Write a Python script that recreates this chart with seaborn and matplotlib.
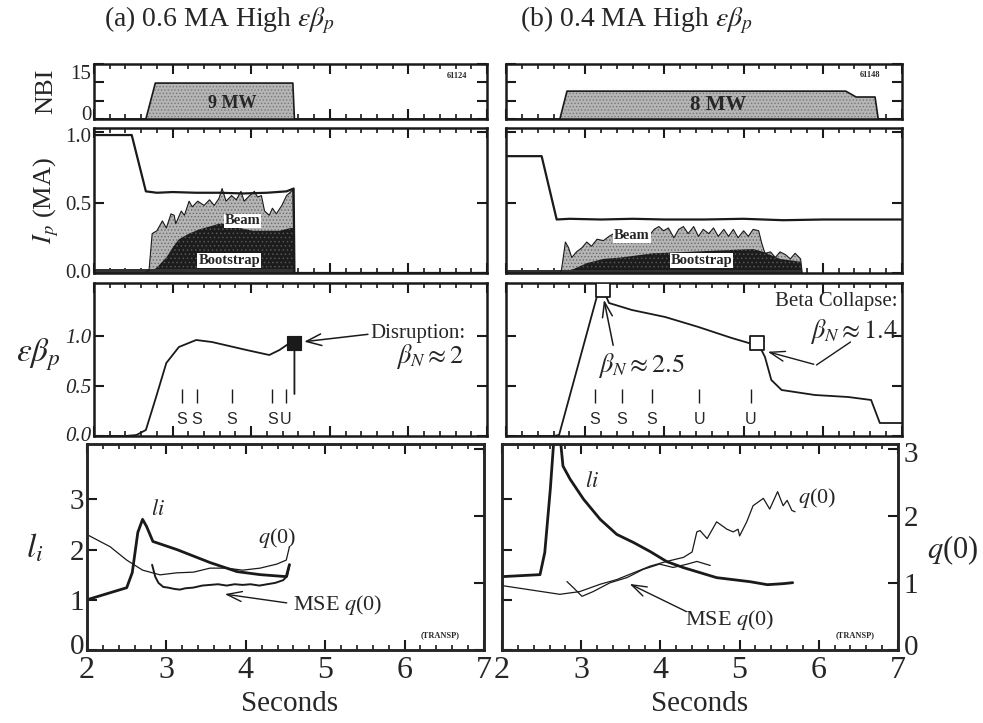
import numpy as np
import pandas as pd
import matplotlib
matplotlib.use("Agg")
import matplotlib.pyplot as plt
import matplotlib.transforms as mtransforms
from matplotlib.ticker import MultipleLocator, FixedLocator
import seaborn as sns

sns.set_theme(style="white")
plt.rcParams['font.family'] = ['Liberation Serif', 'DejaVu Serif']
plt.rcParams['mathtext.fontset'] = 'stix'
plt.rcParams['hatch.linewidth'] = 0.6

# ---------------- data: (a) 0.6 MA shot 61124 ----------------
a_nbi_t = [2.0, 2.66, 2.78, 4.53, 4.55, 7.0]
a_nbi_p = [0.0, 0.0, 9.8, 9.8, 0.0, 0.0]

a_ip_t = [2.0, 2.48, 2.66, 2.8, 3.0, 3.3, 3.6, 3.9, 4.2, 4.45, 4.54, 4.55, 7.0]
a_ip_v = [0.98, 0.98, 0.58, 0.57, 0.575, 0.57, 0.57, 0.565, 0.57, 0.58, 0.60, 0.0, 0.0]

a_beam_t = [2.65, 2.70, 2.74, 2.80, 2.87, 2.92, 2.98, 3.02, 3.04, 3.11, 3.15, 3.21, 3.25,
            3.32, 3.40, 3.47, 3.53, 3.59, 3.63, 3.68, 3.75, 3.81, 3.87, 3.91, 3.98, 4.04,
            4.08, 4.13, 4.17, 4.23, 4.27, 4.32, 4.39, 4.45, 4.51, 4.53, 4.55]
a_beam_v = [0.0, 0.02, 0.28, 0.30, 0.37, 0.32, 0.42, 0.41, 0.35, 0.44, 0.41, 0.51, 0.47,
            0.51, 0.48, 0.52, 0.48, 0.53, 0.60, 0.51, 0.55, 0.52, 0.58, 0.51, 0.55, 0.58,
            0.54, 0.55, 0.44, 0.41, 0.46, 0.42, 0.48, 0.55, 0.58, 0.59, 0.0]

a_boot_t = [2.70, 2.80, 2.92, 3.00, 3.08, 3.21, 3.34, 3.47, 3.59, 3.72, 3.85, 4.02, 4.19,
            4.36, 4.50, 4.54, 4.55]
a_boot_v = [0.0, 0.04, 0.11, 0.18, 0.24, 0.28, 0.31, 0.33, 0.35, 0.35, 0.32, 0.30, 0.30,
            0.30, 0.32, 0.32, 0.0]

a_ohm_t = [2.0, 4.55]
a_ohm_v = [0.025, 0.025]

a_eb_t = [2.0, 2.4, 2.54, 2.66, 2.79, 2.92, 3.08, 3.3, 3.5, 3.72, 3.94, 4.23, 4.36, 4.49, 4.55, 4.55]
a_eb_v = [0.0, 0.0, 0.01, 0.06, 0.39, 0.73, 0.89, 0.96, 0.94, 0.90, 0.86, 0.81, 0.86, 0.93, 0.93, 0.42]
a_disr_t = [4.55]
a_disr_v = [0.93]
a_ev_t = [3.12, 3.31, 3.75, 4.27, 4.44]
a_ev_lbl = ["S", "S", "S", "S", "U"]

a_li_t = [2.0, 2.5, 2.57, 2.64, 2.70, 2.75, 2.83, 3.13, 3.55, 3.89, 4.18, 4.51, 4.55]
a_li_v = [1.0, 1.24, 1.54, 2.34, 2.60, 2.46, 2.16, 2.0, 1.74, 1.56, 1.50, 1.46, 1.70]

a_q_t = [2.0, 2.29, 2.5, 2.7, 2.92, 3.13, 3.34, 3.55, 3.76, 3.96, 4.18, 4.39, 4.51, 4.55]
a_q_v = [1.72, 1.54, 1.34, 1.19, 1.12, 1.15, 1.16, 1.22, 1.22, 1.19, 1.22, 1.28, 1.34, 1.54]

a_mse_t = [2.82, 2.86, 2.90, 2.96, 3.02, 3.10, 3.17, 3.24, 3.34, 3.45, 3.55, 3.65, 3.76,
           3.86, 3.96, 4.06, 4.17, 4.27, 4.37, 4.47, 4.52, 4.55]
a_mse_v = [1.27, 1.09, 1.00, 0.94, 0.93, 0.91, 0.90, 0.92, 0.93, 0.96, 0.97, 0.98, 0.96,
           0.98, 0.97, 0.98, 0.96, 0.98, 1.00, 1.04, 1.10, 1.27]

# ---------------- data: (b) 0.4 MA shot 61148 ----------------
b_nbi_t = [2.0, 2.68, 2.77, 6.29, 6.42, 6.66, 6.70, 7.0]
b_nbi_p = [0.0, 0.0, 7.6, 7.6, 6.0, 6.0, 0.0, 0.0]

b_ip_t = [2.0, 2.45, 2.64, 2.8, 3.2, 3.6, 4.0, 4.5, 5.0, 5.5, 6.0, 6.5, 7.0]
b_ip_v = [0.83, 0.83, 0.38, 0.385, 0.38, 0.385, 0.38, 0.38, 0.385, 0.375, 0.38, 0.38, 0.38]

b_beam_t = [2.68, 2.70, 2.75, 2.79, 2.83, 2.89, 2.96, 3.02, 3.08, 3.15, 3.23, 3.30, 3.36,
            3.50, 3.65, 3.83, 3.87, 3.93, 3.99, 4.05, 4.12, 4.18, 4.24, 4.30, 4.37, 4.43,
            4.49, 4.56, 4.62, 4.68, 4.75, 4.81, 4.87, 4.93, 5.00, 5.06, 5.12, 5.19, 5.23,
            5.27, 5.34, 5.40, 5.46, 5.53, 5.59, 5.65, 5.72, 5.74]
b_beam_v = [0.0, 0.02, 0.22, 0.18, 0.11, 0.15, 0.18, 0.22, 0.19, 0.24, 0.23, 0.26, 0.28,
            0.27, 0.29, 0.28, 0.31, 0.33, 0.30, 0.32, 0.25, 0.31, 0.33, 0.28, 0.33, 0.26,
            0.31, 0.28, 0.32, 0.26, 0.31, 0.26, 0.31, 0.25, 0.30, 0.26, 0.31, 0.30, 0.21,
            0.14, 0.15, 0.11, 0.15, 0.13, 0.10, 0.14, 0.10, 0.0]

b_boot_t = [2.70, 2.86, 3.02, 3.23, 3.45, 3.86, 4.28, 4.70, 5.12, 5.25, 5.46, 5.72, 5.74]
b_boot_v = [0.0, 0.03, 0.07, 0.10, 0.11, 0.14, 0.15, 0.16, 0.17, 0.15, 0.10, 0.08, 0.0]

b_ohm_t = [2.0, 5.74]
b_ohm_v = [0.02, 0.02]

b_eb_t = [2.0, 2.6, 2.67, 3.17, 3.23, 3.30, 3.59, 4.01, 4.43, 4.85, 5.15, 5.18, 5.27,
          5.35, 5.48, 5.90, 6.32, 6.61, 6.72, 7.0]
b_eb_v = [0.0, 0.0, 0.01, 1.46, 1.46, 1.33, 1.26, 1.19, 1.09, 0.98, 0.91, 0.93, 0.79,
          0.56, 0.46, 0.41, 0.39, 0.36, 0.13, 0.13]
b_sq_t = [3.23, 5.17]
b_sq_v = [1.46, 0.93]
b_ev_t = [3.12, 3.46, 3.84, 4.44, 5.09]
b_ev_lbl = ["S", "S", "S", "U", "U"]

b_li_t = [2.0, 2.48, 2.54, 2.61, 2.66, 2.73, 2.77, 2.86, 3.03, 3.24, 3.45, 3.66, 3.87,
          4.08, 4.29, 4.50, 4.71, 4.92, 5.13, 5.35, 5.55, 5.67]
b_li_v = [1.46, 1.50, 1.94, 3.20, 4.3, 4.3, 3.66, 3.40, 3.00, 2.60, 2.30, 2.14, 1.96,
          1.76, 1.64, 1.54, 1.44, 1.40, 1.36, 1.30, 1.32, 1.34]

b_q_t = [2.0, 2.73, 2.98, 3.24, 3.45, 3.66, 3.87, 4.08, 4.29, 4.40, 4.46, 4.50, 4.59,
         4.71, 4.84, 4.92, 4.98, 5.00, 5.09, 5.17, 5.30, 5.38, 5.48, 5.55, 5.60, 5.66, 5.70]
b_q_v = [0.96, 0.83, 0.87, 0.98, 1.05, 1.15, 1.25, 1.32, 1.38, 1.46, 1.76, 1.78, 1.66,
         1.91, 1.80, 1.76, 1.80, 1.70, 1.91, 2.15, 2.26, 2.10, 2.36, 2.15, 2.23, 2.08, 2.06]

b_mse_t = [2.82, 2.90, 3.01, 3.15, 3.36, 3.58, 3.78, 3.99, 4.16, 4.34, 4.46, 4.63]
b_mse_v = [1.02, 0.93, 0.80, 0.87, 1.00, 1.08, 1.20, 1.28, 1.23, 1.28, 1.32, 1.26]

x_ticks = [2, 3, 4, 5, 6, 7]

# ---------------- figure ----------------
W, H = 983, 723
fig = plt.figure(figsize=(W / 100, H / 100), dpi=100)


def box(x0, x1, y0, y1):
    return [x0 / W, 1 - y1 / H, (x1 - x0) / W, (y1 - y0) / H]


def line(ax, x, y, lw=1.0):
    sns.lineplot(x=x, y=y, ax=ax, color='k', lw=lw, sort=False,
                 estimator=None, legend=False)


def shift(lbl, dy_px):
    lbl.set_transform(lbl.get_transform() +
                      mtransforms.ScaledTranslation(0, dy_px / 100, fig.dpi_scale_trans))


def style(ax, ylim, yticks, ylabels=None, xlabels=False, ysize=13, yitalic=False):
    ax.set_xlim(2, 7)
    ax.set_ylim(*ylim)
    for s in ax.spines.values():
        s.set_linewidth(1.8)
        s.set_color('k')
        s.set_visible(True)
    ax.xaxis.set_major_locator(FixedLocator(x_ticks))
    ax.xaxis.set_minor_locator(MultipleLocator(0.2))
    ax.yaxis.set_major_locator(FixedLocator(yticks))
    ax.tick_params(which='both', direction='in', top=True, bottom=True,
                   left=True, right=True, color='k')
    ax.tick_params(which='major', length=7, width=1.5)
    ax.tick_params(which='minor', length=3.5, width=1.2)
    ax.tick_params(axis='y', which='minor', left=False, right=False)
    if xlabels:
        ax.set_xticklabels([str(v) for v in x_ticks], fontsize=23)
        ax.tick_params(axis='x', pad=4)
    else:
        ax.set_xticklabels([])
    if ylabels is None:
        ax.set_yticklabels([])
    else:
        ax.set_yticklabels(ylabels, fontsize=ysize,
                           style='italic' if yitalic else 'normal')
        ax.tick_params(axis='y', pad=2)
    ax.set_xlabel('')
    ax.set_ylabel('')
    ax.grid(False)
    ax.set_facecolor('white')


GRAY = '#b5b5b5'
DARK = '#1c1c1c'

cols = [
    dict(x0=94, x1=487, bx0=87, bx1=484, nbi_t=a_nbi_t, nbi_p=a_nbi_p, ip_t=a_ip_t, ip_v=a_ip_v,
         beam_t=a_beam_t, beam_v=a_beam_v, boot_t=a_boot_t, boot_v=a_boot_v,
         ohm_t=a_ohm_t, ohm_v=a_ohm_v, eb_t=a_eb_t, eb_v=a_eb_v,
         ev_t=a_ev_t, ev_lbl=a_ev_lbl, li_t=a_li_t, li_v=a_li_v, q_t=a_q_t, q_v=a_q_v,
         mse_t=a_mse_t, mse_v=a_mse_v, shot='61124', mw='9 MW', left=True),
    dict(x0=506, x1=902, bx0=502, bx1=898, nbi_t=b_nbi_t, nbi_p=b_nbi_p, ip_t=b_ip_t, ip_v=b_ip_v,
         beam_t=b_beam_t, beam_v=b_beam_v, boot_t=b_boot_t, boot_v=b_boot_v,
         ohm_t=b_ohm_t, ohm_v=b_ohm_v, eb_t=b_eb_t, eb_v=b_eb_v,
         ev_t=b_ev_t, ev_lbl=b_ev_lbl, li_t=b_li_t, li_v=b_li_v, q_t=b_q_t, q_v=b_q_v,
         mse_t=b_mse_t, mse_v=b_mse_v, shot='61148', mw='8 MW', left=False),
]

for c in cols:
    L = c['left']
    # ---- NBI ----
    ax = fig.add_axes(box(c['x0'], c['x1'], 64, 119))
    ax.fill_between(c['nbi_t'], c['nbi_p'], 0, facecolor=GRAY, hatch='.....',
                    edgecolor='#777777', lw=0)
    line(ax, c['nbi_t'], c['nbi_p'], 1.2)
    style(ax, (0, 15), [0, 5, 10, 15], ['0', '', '', '15'] if L else None, ysize=15)
    if L:
        lbls = ax.get_yticklabels()
        shift(lbls[0], 6)
        shift(lbls[3], -8)
        ax.text(3.76, 4.3, c['mw'], ha='center', va='center', fontsize=13, fontweight='bold')
        ax.text(6.62, 11.8, c['shot'], ha='center', va='center', fontsize=6, fontweight='bold')
    else:
        ax.text(4.68, 3.7, c['mw'], ha='center', va='center', fontsize=15, fontweight='bold')
        ax.text(6.6, 12.0, c['shot'], ha='center', va='center', fontsize=6, fontweight='bold')

    # ---- Ip ----
    ax = fig.add_axes(box(c['x0'], c['x1'], 128, 273))
    ax.fill_between(c['beam_t'], c['beam_v'], 0, facecolor=GRAY, hatch='.....',
                    edgecolor='#6a6a6a', lw=0)
    line(ax, c['beam_t'], c['beam_v'], 0.8)
    ax.fill_between(c['boot_t'], c['boot_v'], 0, facecolor=DARK, hatch='....',
                    edgecolor='#555555', lw=0)
    ax.fill_between(c['ohm_t'], c['ohm_v'], 0, facecolor='#333333', lw=0)
    line(ax, c['ip_t'], c['ip_v'], 1.6)
    style(ax, (0, 1.03), [0, 0.5, 1.0], ['0.0', '0.5', '1.0'] if L else None, ysize=15)
    if L:
        lbls = ax.get_yticklabels()
        shift(lbls[0], 2)
        shift(lbls[2], -3)
    bb = dict(facecolor='white', edgecolor='none', pad=0.6)
    if L:
        ax.text(3.89, 0.37, 'Beam', ha='center', va='center', fontsize=10.5,
                fontweight='bold', bbox=bb)
        ax.text(3.72, 0.09, 'Bootstrap', ha='center', va='center', fontsize=10.5,
                fontweight='bold', bbox=bb)
    else:
        ax.text(3.59, 0.265, 'Beam', ha='center', va='center', fontsize=10.5,
                fontweight='bold', bbox=bb)
        ax.text(4.47, 0.09, 'Bootstrap', ha='center', va='center', fontsize=10.5,
                fontweight='bold', bbox=bb)

    # ---- eps beta_p ----
    ax = fig.add_axes(box(c['x0'], c['x1'], 283, 436))
    line(ax, c['eb_t'], c['eb_v'], 1.3)
    ax.vlines(c['ev_t'], 0.33, 0.47, colors='k', lw=1.0)
    for t, s in zip(c['ev_t'], c['ev_lbl']):
        ax.text(t, 0.17, s, ha='center', va='center', fontsize=11.5,
                family='Liberation Sans')
    style(ax, (0, 1.53), [0, 0.5, 1.0], ['0.0', '0.5', '1.0'] if L else None,
          ysize=15, yitalic=True)
    if L:
        lbls = ax.get_yticklabels()
        shift(lbls[0], 2)
    if L:
        sns.scatterplot(x=a_disr_t, y=a_disr_v, ax=ax, marker='s', s=110,
                        color='k', edgecolor='k', legend=False, zorder=5)
        ax.annotate('', xy=(4.64, 0.94), xytext=(5.52, 1.02),
                    arrowprops=dict(arrowstyle='->,head_width=0.35,head_length=0.9',
                                    lw=1.1, color='k'))
        ax.text(5.52, 1.02, 'Disruption:', ha='left', va='center', fontsize=15)
        ax.text(6.28, 0.79, r'$\beta_N \approx 2$', ha='center', va='center', fontsize=19)
    else:
        sns.scatterplot(x=b_sq_t, y=b_sq_v, ax=ax, marker='s', s=90,
                        color='white', edgecolor='k', linewidth=1.3, legend=False, zorder=5)
        ax.annotate('', xy=(3.23, 1.39), xytext=(3.36, 0.88),
                    arrowprops=dict(arrowstyle='->,head_width=0.3,head_length=0.9',
                                    lw=1.1, color='k'))
        ax.text(3.71, 0.70, r'$\beta_N \approx 2.5$', ha='center', va='center', fontsize=19)
        ax.plot([6.35, 5.92], [0.94, 0.71], color='k', lw=1.0)
        ax.annotate('', xy=(5.27, 0.85), xytext=(5.92, 0.71),
                    arrowprops=dict(arrowstyle='->,head_width=0.3,head_length=0.9',
                                    lw=1.0, color='k'))
        ax.text(6.95, 1.34, 'Beta Collapse:', ha='right', va='center', fontsize=15)
        ax.text(6.95, 1.04, r'$\beta_N \approx 1.4$', ha='right', va='center', fontsize=19)

    # ---- li / q(0) ----
    ax = fig.add_axes(box(c['bx0'], c['bx1'], 444, 650))
    line(ax, c['li_t'], c['li_v'], 2.0)
    style(ax, (0, 4.1), [0, 1, 2, 3], ['0', '1', '2', '3'] if L else None, ysize=21,
          xlabels=True)
    if L:
        lbls = ax.get_yticklabels()
        shift(lbls[0], 6)
    ax.tick_params(axis='y', which='major', right=False)
    ax2 = ax.twinx()
    line(ax2, c['q_t'], c['q_v'], 0.9)
    line(ax2, c['mse_t'], c['mse_v'], 1.4 if L else 0.9)
    ax2.set_ylim(0, 3.07)
    ax2.set_xlim(2, 7)
    ax2.yaxis.set_major_locator(FixedLocator([0, 1, 2, 3]))
    ax2.tick_params(axis='y', which='both', direction='in', length=7, width=1.5,
                    right=True, left=False, color='k')
    if L:
        ax2.set_yticklabels([])
    else:
        ax2.set_yticklabels(['0', '1', '2', '3'], fontsize=21)
        ax2.tick_params(axis='y', pad=4)
        l2 = ax2.get_yticklabels()
        shift(l2[0], 5)
        shift(l2[3], -3)
    ax2.set_ylabel('')
    for s in ax2.spines.values():
        s.set_linewidth(1.8)
    ax2.grid(False)
    if L:
        ax.text(2.9, 2.78, r'$li$', ha='center', va='center', fontsize=16)
        ax.text(4.4, 2.22, r'$q$(0)', ha='center', va='center', fontsize=16)
        ax.annotate('', xy=(3.7, 1.12), xytext=(4.55, 0.93),
                    arrowprops=dict(arrowstyle='->,head_width=0.3,head_length=0.9',
                                    lw=1.0, color='k'))
        ax.text(4.6, 0.9, r'MSE $q$(0)', ha='left', va='center', fontsize=16)
        ax.text(6.45, 0.3, '(TRANSP)', ha='center', va='center', fontsize=6, fontweight='bold')
    else:
        ax.text(3.14, 3.34, r'$li$', ha='center', va='center', fontsize=16)
        ax.text(5.98, 3.02, r'$q$(0)', ha='center', va='center', fontsize=16)
        ax.annotate('', xy=(3.58, 1.34), xytext=(4.36, 0.74),
                    arrowprops=dict(arrowstyle='->,head_width=0.3,head_length=0.9',
                                    lw=1.0, color='k'))
        ax.text(4.88, 0.6, r'MSE $q$(0)', ha='center', va='center', fontsize=16)
        ax.text(6.46, 0.3, '(TRANSP)', ha='center', va='center', fontsize=6, fontweight='bold')

# ---- figure-level labels ----
fig.text(220 / W, 1 - 20 / H, r'(a) 0.6 MA High $\varepsilon\beta_p$', ha='center',
         va='center', fontsize=20)
fig.text(636 / W, 1 - 20 / H, r'(b) 0.4 MA High $\varepsilon\beta_p$', ha='center',
         va='center', fontsize=20)
fig.text(290 / W, 1 - 704 / H, 'Seconds', ha='center', va='center', fontsize=21)
fig.text(700 / W, 1 - 704 / H, 'Seconds', ha='center', va='center', fontsize=21)
fig.text(46 / W, 1 - 91 / H, 'NBI', ha='center', va='center', fontsize=19, rotation=90)
fig.text(46 / W, 1 - 200 / H, r'$I_p$ (MA)', ha='center', va='center', fontsize=19,
         rotation=90)
fig.text(38 / W, 1 - 355 / H, r'$\varepsilon\beta_p$', ha='center', va='center', fontsize=24)
fig.text(35 / W, 1 - 548 / H, r'$l_i$', ha='center', va='center', fontsize=24)
fig.text(953 / W, 1 - 550 / H, r'$q$(0)', ha='center', va='center', fontsize=22)

fig.savefig('out.png', dpi=100, facecolor='white')
